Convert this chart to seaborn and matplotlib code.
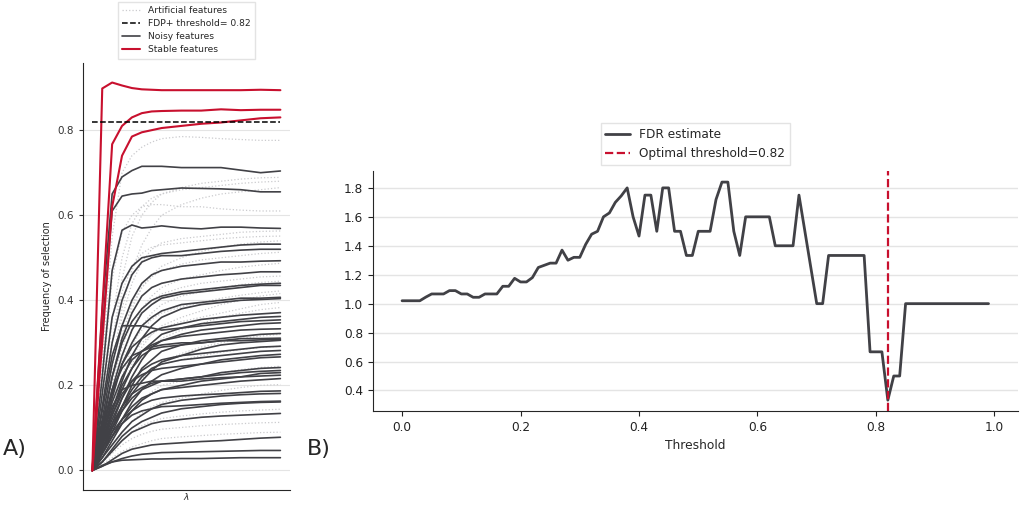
import numpy as np
import pandas as pd
import matplotlib
matplotlib.use('Agg')
import matplotlib.pyplot as plt
from matplotlib.lines import Line2D
import seaborn as sns

# lambda grid (index of regularisation value)
lam = [0, 1, 2, 3, 4, 5, 6, 7, 9, 11, 13, 15, 17, 19]

stable_paths = [
    [0, 0.898, 0.912, 0.905, 0.899, 0.896, 0.895, 0.894, 0.894, 0.894, 0.894, 0.894, 0.895, 0.894],
    [0, 0.38, 0.767, 0.81, 0.83, 0.84, 0.844, 0.845, 0.846, 0.846, 0.849, 0.847, 0.848, 0.848],
    [0, 0.30, 0.62, 0.74, 0.785, 0.795, 0.80, 0.805, 0.81, 0.815, 0.818, 0.823, 0.828, 0.83],
]

noisy_paths = [
    [0, 0.38, 0.65, 0.69, 0.705, 0.715, 0.715, 0.715, 0.712, 0.712, 0.712, 0.706, 0.70, 0.704],
    [0, 0.33, 0.61, 0.645, 0.65, 0.652, 0.658, 0.66, 0.664, 0.663, 0.662, 0.66, 0.655, 0.655],
    [0, 0.22, 0.47, 0.565, 0.577, 0.57, 0.572, 0.575, 0.57, 0.568, 0.572, 0.572, 0.57, 0.569],
    [0, 0.18, 0.36, 0.44, 0.48, 0.50, 0.505, 0.51, 0.515, 0.52, 0.525, 0.53, 0.532, 0.532],
    [0, 0.15, 0.30, 0.40, 0.46, 0.49, 0.50, 0.505, 0.505, 0.51, 0.515, 0.518, 0.52, 0.52],
    [0, 0.12, 0.25, 0.34, 0.40, 0.44, 0.46, 0.47, 0.48, 0.485, 0.49, 0.49, 0.492, 0.493],
    [0, 0.10, 0.22, 0.31, 0.37, 0.41, 0.43, 0.44, 0.45, 0.455, 0.46, 0.463, 0.467, 0.467],
    [0, 0.11, 0.22, 0.30, 0.35, 0.38, 0.40, 0.41, 0.42, 0.425, 0.43, 0.435, 0.438, 0.44],
    [0, 0.09, 0.19, 0.27, 0.33, 0.37, 0.39, 0.405, 0.415, 0.42, 0.425, 0.43, 0.435, 0.435],
    [0, 0.08, 0.17, 0.25, 0.30, 0.34, 0.36, 0.375, 0.39, 0.395, 0.40, 0.405, 0.405, 0.407],
    [0, 0.07, 0.14, 0.21, 0.27, 0.31, 0.34, 0.36, 0.38, 0.39, 0.395, 0.40, 0.402, 0.404],
    [0, 0.09, 0.18, 0.25, 0.29, 0.31, 0.325, 0.335, 0.345, 0.355, 0.36, 0.365, 0.368, 0.371],
    [0, 0.06, 0.13, 0.19, 0.24, 0.28, 0.30, 0.32, 0.335, 0.345, 0.35, 0.355, 0.36, 0.362],
    [0, 0.14, 0.27, 0.34, 0.34, 0.34, 0.335, 0.33, 0.335, 0.34, 0.345, 0.35, 0.352, 0.354],
    [0, 0.05, 0.11, 0.17, 0.22, 0.26, 0.29, 0.305, 0.32, 0.33, 0.335, 0.34, 0.345, 0.347],
    [0, 0.08, 0.16, 0.22, 0.26, 0.28, 0.295, 0.305, 0.315, 0.32, 0.325, 0.33, 0.332, 0.333],
    [0, 0.05, 0.10, 0.15, 0.20, 0.24, 0.26, 0.28, 0.295, 0.305, 0.31, 0.315, 0.32, 0.322],
    [0, 0.07, 0.14, 0.20, 0.24, 0.27, 0.285, 0.29, 0.295, 0.30, 0.305, 0.31, 0.31, 0.311],
    [0, 0.10, 0.19, 0.24, 0.27, 0.28, 0.29, 0.295, 0.30, 0.30, 0.305, 0.305, 0.307, 0.308],
    [0, 0.04, 0.09, 0.14, 0.18, 0.21, 0.235, 0.255, 0.27, 0.285, 0.295, 0.30, 0.303, 0.306],
    [0, 0.06, 0.12, 0.17, 0.21, 0.235, 0.25, 0.26, 0.27, 0.275, 0.28, 0.285, 0.29, 0.292],
    [0, 0.05, 0.10, 0.15, 0.19, 0.22, 0.24, 0.25, 0.26, 0.265, 0.27, 0.275, 0.28, 0.282],
    [0, 0.04, 0.08, 0.12, 0.16, 0.19, 0.21, 0.225, 0.24, 0.25, 0.26, 0.265, 0.27, 0.273],
    [0, 0.07, 0.13, 0.18, 0.21, 0.225, 0.235, 0.24, 0.245, 0.25, 0.255, 0.26, 0.265, 0.267],
    [0, 0.05, 0.10, 0.14, 0.17, 0.19, 0.20, 0.21, 0.215, 0.22, 0.23, 0.235, 0.24, 0.242],
    [0, 0.08, 0.15, 0.19, 0.20, 0.205, 0.21, 0.21, 0.215, 0.22, 0.225, 0.23, 0.233, 0.235],
    [0, 0.03, 0.07, 0.11, 0.14, 0.165, 0.18, 0.19, 0.20, 0.21, 0.215, 0.22, 0.228, 0.23],
    [0, 0.06, 0.11, 0.15, 0.18, 0.195, 0.205, 0.21, 0.21, 0.215, 0.218, 0.22, 0.222, 0.224],
    [0, 0.04, 0.08, 0.12, 0.15, 0.17, 0.18, 0.19, 0.195, 0.20, 0.205, 0.21, 0.213, 0.216],
    [0, 0.05, 0.09, 0.12, 0.14, 0.155, 0.165, 0.17, 0.175, 0.178, 0.18, 0.183, 0.186, 0.187],
    [0, 0.03, 0.06, 0.09, 0.115, 0.13, 0.145, 0.155, 0.165, 0.17, 0.175, 0.178, 0.18, 0.181],
    [0, 0.04, 0.08, 0.11, 0.13, 0.14, 0.145, 0.15, 0.152, 0.155, 0.158, 0.16, 0.162, 0.163],
    [0, 0.02, 0.05, 0.08, 0.10, 0.115, 0.125, 0.135, 0.145, 0.15, 0.155, 0.158, 0.16, 0.161],
    [0, 0.02, 0.045, 0.07, 0.09, 0.10, 0.11, 0.115, 0.12, 0.125, 0.128, 0.13, 0.132, 0.134],
    [0, 0.01, 0.025, 0.04, 0.05, 0.055, 0.06, 0.062, 0.065, 0.068, 0.07, 0.073, 0.076, 0.078],
    [0, 0.01, 0.02, 0.028, 0.034, 0.038, 0.04, 0.042, 0.043, 0.044, 0.045, 0.046, 0.047, 0.047],
    [0, 0.012, 0.02, 0.024, 0.025, 0.026, 0.027, 0.027, 0.028, 0.028, 0.029, 0.03, 0.03, 0.03],
]

artificial_paths = [
    [0, 0.25, 0.55, 0.70, 0.74, 0.76, 0.772, 0.78, 0.785, 0.783, 0.78, 0.778, 0.776, 0.776],
    [0, 0.12, 0.30, 0.45, 0.55, 0.60, 0.63, 0.65, 0.665, 0.675, 0.68, 0.685, 0.688, 0.689],
    [0, 0.15, 0.35, 0.50, 0.58, 0.62, 0.64, 0.65, 0.66, 0.665, 0.67, 0.675, 0.678, 0.68],
    [0, 0.10, 0.25, 0.38, 0.47, 0.53, 0.57, 0.60, 0.625, 0.64, 0.65, 0.655, 0.66, 0.665],
    [0, 0.20, 0.45, 0.56, 0.60, 0.62, 0.625, 0.625, 0.62, 0.62, 0.615, 0.612, 0.61, 0.61],
    [0, 0.10, 0.24, 0.36, 0.44, 0.49, 0.52, 0.535, 0.545, 0.55, 0.555, 0.56, 0.562, 0.563],
    [0, 0.12, 0.30, 0.42, 0.48, 0.51, 0.525, 0.53, 0.535, 0.54, 0.545, 0.548, 0.55, 0.551],
    [0, 0.08, 0.20, 0.30, 0.38, 0.43, 0.46, 0.48, 0.50, 0.515, 0.525, 0.532, 0.537, 0.54],
    [0, 0.10, 0.22, 0.32, 0.39, 0.43, 0.455, 0.47, 0.485, 0.495, 0.50, 0.505, 0.51, 0.513],
    [0, 0.07, 0.17, 0.26, 0.33, 0.38, 0.41, 0.43, 0.45, 0.46, 0.47, 0.478, 0.483, 0.487],
    [0, 0.09, 0.20, 0.29, 0.35, 0.38, 0.40, 0.415, 0.43, 0.44, 0.445, 0.45, 0.455, 0.457],
    [0, 0.06, 0.14, 0.22, 0.29, 0.34, 0.37, 0.39, 0.41, 0.42, 0.43, 0.437, 0.442, 0.445],
    [0, 0.08, 0.17, 0.25, 0.30, 0.33, 0.355, 0.37, 0.385, 0.395, 0.405, 0.412, 0.418, 0.422],
    [0, 0.05, 0.12, 0.19, 0.25, 0.29, 0.32, 0.34, 0.36, 0.375, 0.39, 0.40, 0.41, 0.416],
    [0, 0.07, 0.15, 0.22, 0.27, 0.30, 0.32, 0.335, 0.35, 0.36, 0.37, 0.38, 0.39, 0.395],
    [0, 0.05, 0.11, 0.17, 0.22, 0.26, 0.29, 0.31, 0.33, 0.345, 0.36, 0.37, 0.378, 0.383],
    [0, 0.04, 0.09, 0.14, 0.18, 0.21, 0.235, 0.255, 0.275, 0.29, 0.30, 0.31, 0.316, 0.32],
    [0, 0.05, 0.10, 0.15, 0.19, 0.215, 0.235, 0.25, 0.26, 0.27, 0.278, 0.284, 0.289, 0.292],
    [0, 0.03, 0.07, 0.11, 0.14, 0.165, 0.185, 0.20, 0.21, 0.22, 0.23, 0.237, 0.242, 0.245],
    [0, 0.03, 0.06, 0.09, 0.115, 0.135, 0.15, 0.16, 0.17, 0.18, 0.188, 0.195, 0.20, 0.202],
    [0, 0.02, 0.045, 0.07, 0.09, 0.105, 0.115, 0.122, 0.128, 0.133, 0.137, 0.14, 0.142, 0.144],
    [0, 0.02, 0.04, 0.06, 0.075, 0.085, 0.092, 0.097, 0.101, 0.105, 0.108, 0.11, 0.112, 0.113],
    [0, 0.015, 0.03, 0.045, 0.055, 0.063, 0.07, 0.075, 0.079, 0.082, 0.085, 0.087, 0.089, 0.09],
]

fdp_threshold = 0.82

# FDR estimate per threshold (0.00 ... 0.99)
fdr = [1.02, 1.02, 1.02, 1.02, 1.045, 1.067, 1.067, 1.067, 1.09, 1.09,
       1.067, 1.067, 1.044, 1.044, 1.067, 1.067, 1.067, 1.12, 1.12, 1.175,
       1.15, 1.15, 1.18, 1.25, 1.265, 1.28, 1.28, 1.37, 1.30, 1.32,
       1.32, 1.41, 1.48, 1.50, 1.60, 1.627, 1.70, 1.745, 1.80, 1.60,
       1.467, 1.75, 1.75, 1.50, 1.80, 1.80, 1.50, 1.50, 1.333, 1.333,
       1.50, 1.50, 1.50, 1.72, 1.84, 1.84, 1.50, 1.333, 1.60, 1.60,
       1.60, 1.60, 1.60, 1.40, 1.40, 1.40, 1.40, 1.75, 1.50, 1.25,
       1.0, 1.0, 1.333, 1.333, 1.333, 1.333, 1.333, 1.333, 1.333, 0.667,
       0.667, 0.667, 0.333, 0.50, 0.50, 1.0, 1.0, 1.0, 1.0, 1.0,
       1.0, 1.0, 1.0, 1.0, 1.0, 1.0, 1.0, 1.0, 1.0, 1.0]
thresholds = np.arange(len(fdr)) / 100
optimal_threshold = 0.82

RED = '#c8102e'
DARK = '#414146'
LIGHT = '#cbcbce'
GRID = '#e4e4e4'


def to_long(paths, kind):
    rows = []
    for i, p in enumerate(paths):
        for l, v in zip(lam, p):
            rows.append((kind, f'{kind}_{i}', l, v))
    return pd.DataFrame(rows, columns=['kind', 'feature', 'lam', 'freq'])


df_paths = pd.concat([to_long(artificial_paths, 'artificial'),
                      to_long(noisy_paths, 'noisy'),
                      to_long(stable_paths, 'stable')], ignore_index=True)

sns.set_style('ticks')
fig = plt.figure(figsize=(10.24, 5.05), dpi=100)

#%% A) stability paths
ax1 = fig.add_axes([0.081, 0.030, 0.202, 0.845])
sns.lineplot(data=df_paths[df_paths.kind == 'artificial'], x='lam', y='freq', units='feature',
             estimator=None, color=LIGHT, linestyle=':', lw=0.9, legend=False, ax=ax1)
sns.lineplot(data=df_paths[df_paths.kind == 'noisy'], x='lam', y='freq', units='feature',
             estimator=None, color=DARK, lw=1.2, legend=False, ax=ax1)
sns.lineplot(data=df_paths[df_paths.kind == 'stable'], x='lam', y='freq', units='feature',
             estimator=None, color=RED, lw=1.5, legend=False, ax=ax1)
ax1.plot([lam[0], lam[-1]], [fdp_threshold, fdp_threshold], color='black', ls='--', lw=1.1)

ax1.set_yticks([0.0, 0.2, 0.4, 0.6, 0.8])
ax1.set_xticks([])
ax1.tick_params(axis='y', labelsize=7.5, length=3, colors='#333333')
ax1.set_xlabel(r'$\lambda$', fontsize=6.5, labelpad=1)
ax1.set_ylabel('Frequency of selection', fontsize=7)
ax1.grid(axis='y', color=GRID, lw=0.8)
ax1.set_axisbelow(True)
sns.despine(ax=ax1)

handles = [Line2D([], [], color=LIGHT, ls=':', lw=0.9),
           Line2D([], [], color='black', ls='--', lw=1.1),
           Line2D([], [], color=DARK, lw=1.2),
           Line2D([], [], color=RED, lw=1.5)]
labels = ['Artificial features', 'FDP+ threshold= 0.82', 'Noisy features', 'Stable features']
ax1.legend(handles, labels, loc='lower center', bbox_to_anchor=(0.5, 1.0), fontsize=6.6,
           frameon=True, fancybox=False, edgecolor='#dddddd', borderpad=0.45, labelspacing=0.45)

#%% B) FDR estimate
ax2 = fig.add_axes([0.364, 0.186, 0.630, 0.475])
sns.lineplot(x=thresholds, y=fdr, color=DARK, lw=2, label='FDR estimate', ax=ax2)
ax2.axvline(optimal_threshold, color=RED, ls='--', lw=1.6, label=f'Optimal threshold={optimal_threshold}')
ax2.set_xticks([0.0, 0.2, 0.4, 0.6, 0.8, 1.0])
ax2.set_yticks([0.4, 0.6, 0.8, 1.0, 1.2, 1.4, 1.6, 1.8])
ax2.tick_params(labelsize=8.7, colors='#222222')
ax2.set_xlabel('Threshold', fontsize=8.8)
ax2.grid(axis='y', color=GRID, lw=1.0)
ax2.set_axisbelow(True)
sns.despine(ax=ax2)
ax2.legend(loc='lower center', bbox_to_anchor=(0.5, 1.0), fontsize=8.7, frameon=True,
           fancybox=False, edgecolor='#dddddd')

fig.text(0.003, 0.10, 'A)', fontsize=16)
fig.text(0.300, 0.10, 'B)', fontsize=16)

fig.savefig('out.png', dpi=100)
